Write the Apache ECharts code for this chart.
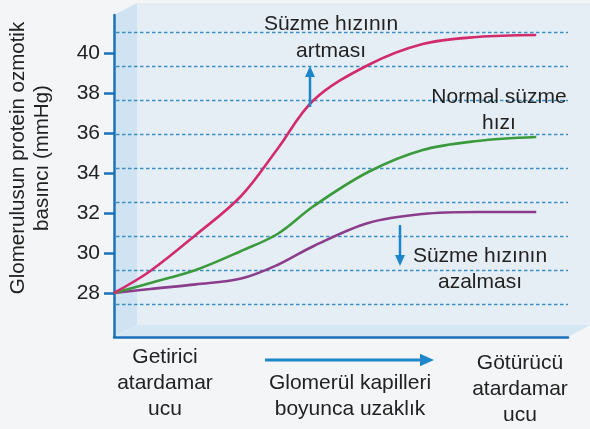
<!DOCTYPE html>
<html>
<head>
<meta charset="utf-8">
<script src="https://cdn.jsdelivr.net/npm/echarts@6/dist/echarts.min.js"></script>
<style>
  html, body { margin: 0; padding: 0; background: #f3f5f6; }
  #chart { width: 590px; height: 429px; }
</style>
</head>
<body>
<div id="chart"></div>
<script>
// Distance along the glomerular capillary (0 = afferent end)
const distance = [0, 8, 18, 28, 36, 44, 56, 68, 80, 93];

// Plasma protein oncotic pressure (mmHg) along the capillary
const increasedFiltration = [28, 29.1, 30.9, 32.85, 35.2, 37.65, 39.4, 40.45, 40.8, 40.9];
const normalFiltration    = [28, 28.5, 29.15, 30.1, 30.95, 32.35, 34.05, 35.15, 35.6, 35.8];
const decreasedFiltration = [28, 28.2, 28.43, 28.72, 29.4, 30.35, 31.5, 31.95, 32.05, 32.05];

const yTicks = [28, 30, 32, 34, 36, 38, 40];

const FONT = '"Liberation Sans", Arial, Helvetica, sans-serif';
const TEXT = '#222';
const BLUE = '#1b72b8';
const ARROW = '#1d86c8';

function pairs(ys) { return distance.map((d, i) => [d, ys[i]]); }

function lineSeries(ys, color) {
  return {
    type: 'line', xAxisIndex: 0, yAxisIndex: 0,
    data: pairs(ys), smooth: 0.35,
    showSymbol: false, symbol: 'none',
    lineStyle: { color: color, width: 2.6 }, z: 5
  };
}

function label(text, x, y, lh) {
  return {
    type: 'text', z: 50,
    style: { text: text, x: x, y: y, align: 'center', verticalAlign: 'middle',
             font: '21px ' + FONT, fill: TEXT, lineHeight: lh || 26 }
  };
}

function arrow(x1, y1, x2, y2, head, width) {
  const dx = x2 - x1, dy = y2 - y1, len = Math.hypot(dx, dy);
  const ux = dx / len, uy = dy / len, px = -uy, py = ux;
  const bx = x2 - ux * head, by = y2 - uy * head;
  return [
    { type: 'line', z: 40, shape: { x1: x1, y1: y1, x2: bx + ux * 2, y2: by + uy * 2 },
      style: { stroke: ARROW, lineWidth: width } },
    { type: 'polygon', z: 40,
      shape: { points: [[x2, y2], [bx + px * head * 0.45, by + py * head * 0.45], [bx - px * head * 0.45, by - py * head * 0.45]] },
      style: { fill: ARROW } }
  ];
}

const chart = echarts.init(document.getElementById('chart'), null, { renderer: 'canvas' });

chart.setOption({
  backgroundColor: '#f3f5f6',
  animation: false,
  grid: [
    { left: 114, right: 22, top: 15, height: 322 },
    { left: 116, right: 22, top: 32, height: 272 }
  ],
  xAxis: [
    { type: 'value', gridIndex: 0, min: 0, max: 100,
      axisLine: { show: true, lineStyle: { color: BLUE, width: 2.5 } },
      axisTick: { show: false }, axisLabel: { show: false }, splitLine: { show: false } },
    { type: 'value', gridIndex: 1, min: 0, max: 100, show: false }
  ],
  yAxis: [
    { type: 'value', gridIndex: 0, min: 25.8, max: 41.9,
      axisLine: { show: true, onZero: false, lineStyle: { color: BLUE, width: 2.5 } },
      axisTick: { show: true, customValues: yTicks, length: 10, lineStyle: { color: BLUE, width: 2.5 } },
      axisLabel: { show: true, customValues: yTicks, margin: 14, color: TEXT,
                   fontSize: 21, fontFamily: FONT },
      splitLine: { show: false } },
    { type: 'value', gridIndex: 1, min: 0, max: 8, interval: 1,
      axisLine: { show: false }, axisTick: { show: false }, axisLabel: { show: false },
      splitLine: { show: true, lineStyle: { color: '#3d8fc2', width: 1.4, type: [3.5, 2.5] } } }
  ],
  series: [
    { type: 'line', xAxisIndex: 1, yAxisIndex: 1, data: [], silent: true },
    lineSeries(decreasedFiltration, '#8b3d8c'),
    lineSeries(normalFiltration, '#3b9a3c'),
    lineSeries(increasedFiltration, '#d22c6c')
  ],
  graphic: [
    // back wall, side wall and floor of the box
    { type: 'rect', z: -100, shape: { x: 137, y: 3, width: 453, height: 322 },
      style: { fill: '#e5eef5' } },
    { type: 'polygon', z: -99, shape: { points: [[114, 15], [137, 3], [137, 325], [114, 337]] },
      style: { fill: '#cfe3f2' } },
    { type: 'polygon', z: -99, shape: { points: [[114, 337], [568, 337], [590, 325], [137, 325]] },
      style: { fill: '#d5e7f3' } },

    // axis title
    { type: 'text', z: 50, rotation: Math.PI / 2, x: 30, y: 158,
      style: { text: 'Glomerulusun protein ozmotik\nbasıncı (mmHg)', x: 0, y: 0,
               align: 'center', verticalAlign: 'middle', font: '20.5px ' + FONT,
               fill: TEXT, lineHeight: 24 } },

    label('Süzme hızının\nartması', 331, 38, 27),
    label('Normal süzme\nhızı', 499, 110),
    label('Süzme hızının\nazalması', 480, 269),
    label('Getirici\natardamar\nucu', 165, 383),
    label('Glomerül kapilleri\nboyunca uzaklık', 350, 396),
    label('Götürücü\natardamar\nucu', 520, 389),

    ...arrow(310, 107, 310, 66, 11, 2.5),
    ...arrow(400, 225, 400, 266, 11, 2.5),
    ...arrow(265, 360, 434, 360, 14, 3)
  ]
});
</script>
</body>
</html>
